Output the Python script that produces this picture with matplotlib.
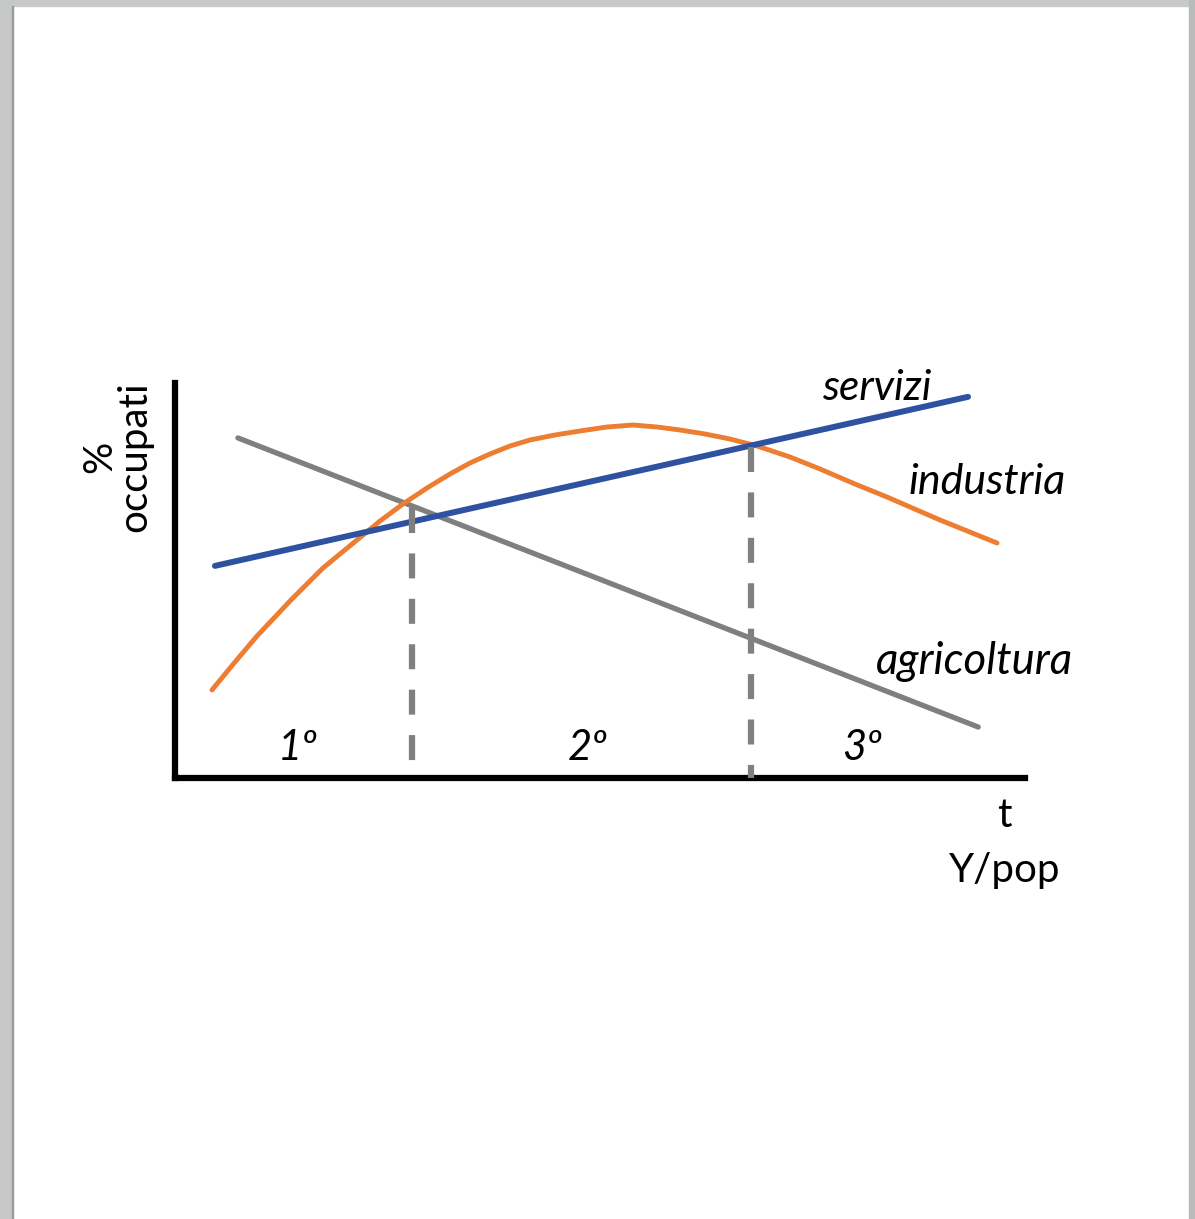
import matplotlib.pyplot as plt
from matplotlib.patches import Rectangle

plt.rcParams['font.family'] = ['Lato', 'DejaVu Sans']
plt.rcParams['lines.scale_dashes'] = False

# schematic data (x = t, y = % occupati, both 0..100)
servizi_x = [4.7, 93.3]
servizi_y = [53.7, 96.5]

agricoltura_x = [7.4, 94.5]
agricoltura_y = [86.1, 12.9]

industria_x = [4.35, 7.06, 9.65, 11.76, 13.53, 15.53, 17.41, 19.41, 21.41, 24.12, 26.82,
               29.65, 32.35, 34.71, 37.06, 39.41, 41.76, 44.71, 47.65, 50.82, 53.88,
               56.71, 59.41, 62.35, 65.29, 68.47, 72.35, 75.88, 80.0, 83.76, 90.0, 96.71]
industria_y = [22.28, 29.37, 35.95, 40.76, 44.81, 49.11, 53.16, 56.71, 60.25, 65.06, 69.37,
               73.42, 76.96, 79.75, 82.03, 84.05, 85.57, 86.84, 87.85, 88.86, 89.37,
               88.86, 88.10, 87.09, 85.82, 84.05, 81.27, 78.23, 74.43, 71.14, 65.32, 59.49]

# phase boundaries (where industria crosses the other lines)
soglie_x = [27.9, 67.8]
soglie_y = [68.3, 83.8]

fasi = ['1º', '2º', '3º']
fasi_x = [14.4, 48.6, 80.8]

fig = plt.figure(figsize=(11.95, 12.19), dpi=100)

# grey page border like the screenshot
fig.patches.append(Rectangle((0, 0), 12 / 1195, 1, transform=fig.transFigure, color='#c6c9c8', zorder=0))
fig.patches.append(Rectangle((0, 1 - 6 / 1219), 1, 6 / 1219, transform=fig.transFigure, color='#c6c9c8', zorder=0))
fig.patches.append(Rectangle((1 - 6 / 1195, 0), 6 / 1195, 1, transform=fig.transFigure, color='#b9bcbb', zorder=0))
fig.patches.append(Rectangle((12 / 1195, 0), 1.5 / 1195, 1 - 6 / 1219, transform=fig.transFigure, color='#9a9a9a', zorder=0))

ax = fig.add_axes([175 / 1195, (1219 - 778) / 1219, 850 / 1195, 395 / 1219])
ax.set_xlim(0, 100)
ax.set_ylim(0, 100)
ax.patch.set_alpha(0)

for s in ['top', 'right']:
    ax.spines[s].set_visible(False)
for s in ['left', 'bottom']:
    ax.spines[s].set_linewidth(4.5)
    ax.spines[s].set_color('black')
ax.set_xticks([])
ax.set_yticks([])

ax.plot(servizi_x, servizi_y, color='#2f52a0', lw=4.3, solid_capstyle='round', zorder=3)
ax.plot(agricoltura_x, agricoltura_y, color='#7f7f7f', lw=3.8, solid_capstyle='round', zorder=2)
ax.plot(industria_x, industria_y, color='#ed7d31', lw=3.5, solid_capstyle='round',
        solid_joinstyle='round', zorder=2)

for x, y in zip(soglie_x, soglie_y):
    ax.plot([x, x], [y, 0], color='#808080', lw=4.5, dashes=(18, 14.7),
            dash_capstyle='butt', zorder=4, clip_on=False)

for lab, x in zip(fasi, fasi_x):
    ax.text(x, 7.6, lab, fontsize=30, style='italic', ha='center', va='center')

ax.text(82.6, 98.7, 'servizi', fontsize=30.5, style='italic', ha='center', va='center', clip_on=False)
ax.text(95.5, 74.9, 'industria', fontsize=31, style='italic', ha='center', va='center', clip_on=False)
ax.text(94.1, 29.4, 'agricoltura', fontsize=31.5, style='italic', ha='center', va='center', clip_on=False)

ax.text(97.6, -9.4, 't', fontsize=29, ha='center', va='center', clip_on=False)
ax.text(97.6, -23.3, 'Y/pop', fontsize=29, ha='center', va='center', clip_on=False)
ax.text(-6.8, 81.3, '%\noccupati', fontsize=29, rotation=90, ha='center', va='center',
        multialignment='center', linespacing=0.95, clip_on=False)

fig.savefig('out.png', dpi=100, facecolor='white')
